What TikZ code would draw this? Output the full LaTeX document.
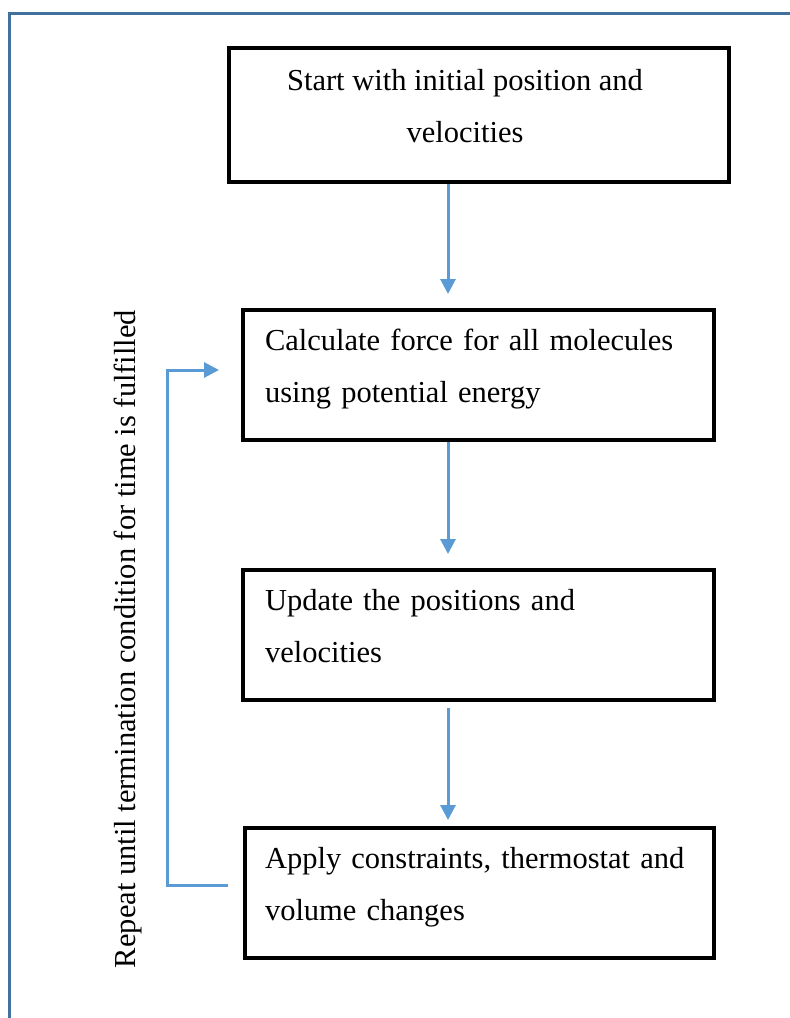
\documentclass[tikz,border=0pt]{standalone}
\usepackage{fontspec}
\setmainfont{Liberation Serif}
\definecolor{frameblue}{HTML}{41719C}
\definecolor{arrowblue}{HTML}{5B9BD5}
\usetikzlibrary{arrows.meta}
\newcommand{\liftup}{\rule[-18pt]{0pt}{0pt}}
\begin{document}
\begin{tikzpicture}[x=1pt,y=-1pt,
  stepbox/.style={draw=black, line width=4.5pt, inner sep=0pt, align=left, font=\fontsize{30.5}{52}\selectfont},
  flow/.style={draw=arrowblue, line width=3pt, -{Triangle[length=15pt,width=15pt]}},
  ]
\useasboundingbox (0,0) rectangle (790,1018);
\draw[frameblue, line width=3pt] (790,13) -- (9,13) -- (9,1018);

\node[stepbox, minimum width=500pt, minimum height=134pt, align=center] (b1) at (479,115) {\mbox{Start with initial position and\hspace{28pt}}\\\mbox{velocities\hspace{28pt}}\liftup};
\node[stepbox, minimum width=471pt, minimum height=130pt, text width=427pt] (b2) at (478.5,375) {\mbox{Calculate force for all molecules}\\\mbox{using potential energy}\liftup};
\node[stepbox, minimum width=471pt, minimum height=130pt, text width=427pt] (b3) at (478.5,635) {\mbox{Update the positions and}\\\mbox{velocities}\liftup};
\node[stepbox, minimum width=469pt, minimum height=130pt, text width=429pt] (b4) at (479.5,893) {\mbox{Apply constraints, thermostat and}\\\mbox{volume changes}\liftup};

\coordinate (a1s) at (448,184);
\coordinate (a1e) at (448,294);
\coordinate (a2s) at (448,442);
\coordinate (a2e) at (448,554);
\coordinate (a3s) at (448,708);
\coordinate (a3e) at (448,820);
\draw[flow] (a1s) -- (a1e);
\draw[flow] (a2s) -- (a2e);
\draw[flow] (a3s) -- (a3e);

\coordinate (ls) at (228,885);
\coordinate (lb) at (167,885);
\coordinate (lt) at (167,370);
\coordinate (le) at (219,370);
\draw[flow] (ls) -- (lb) -- (lt) -- (le);

\node[rotate=90, font=\fontsize{30.5}{36}\selectfont] (rep) at (128,639) {Repeat until termination condition for time is fulfilled};
\end{tikzpicture}
\end{document}
